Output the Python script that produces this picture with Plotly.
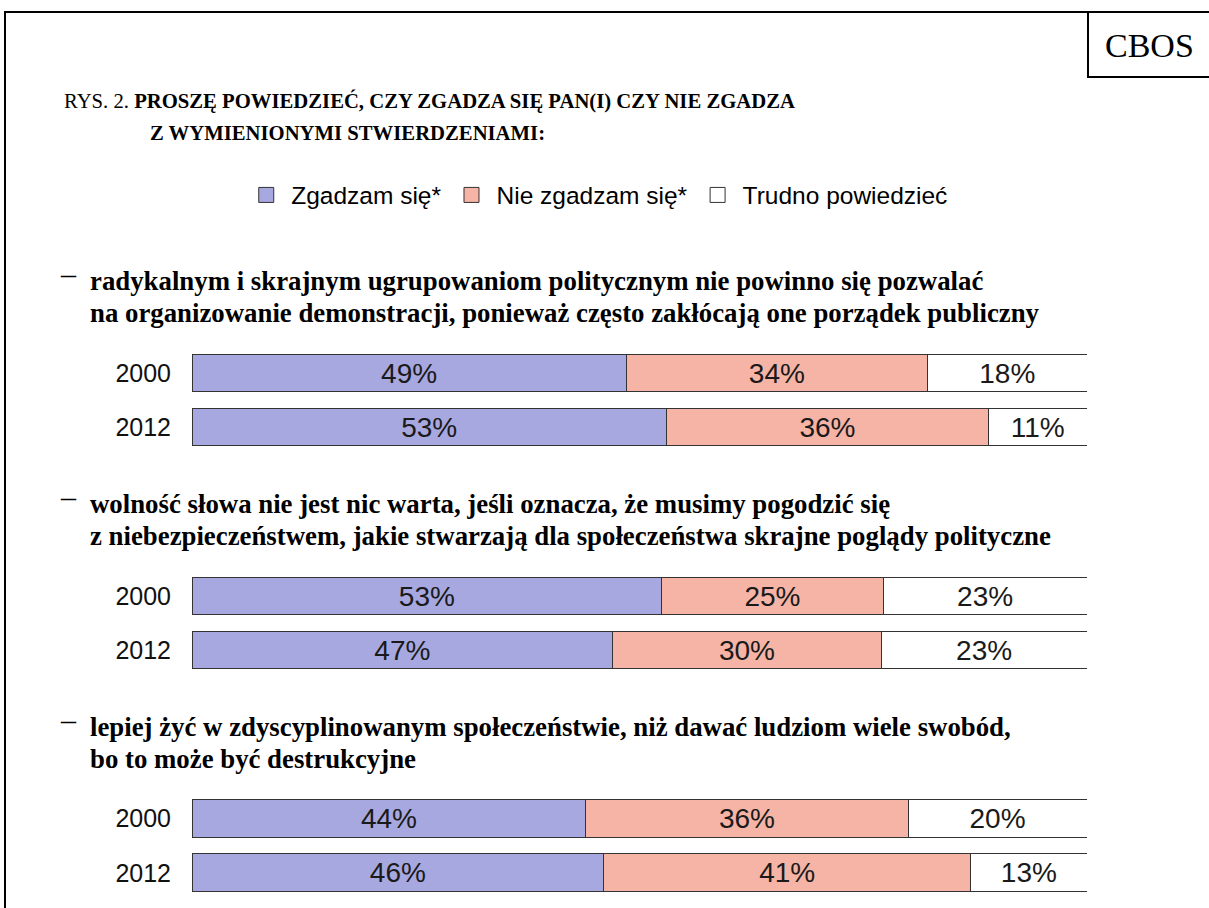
import plotly.graph_objects as go

W, H = 1209, 908

years = ["2000", "2012"]
series_names = ["Zgadzam się*", "Nie zgadzam się*", "Trudno powiedzieć"]
series_colors = ["#A8A8E0", "#F5B4A6", "#FFFFFF"]

q1_agree = [49, 53]
q1_disagree = [34, 36]
q1_hard = [18, 11]

q2_agree = [53, 47]
q2_disagree = [25, 30]
q2_hard = [23, 23]

q3_agree = [44, 46]
q3_disagree = [36, 41]
q3_hard = [20, 13]

questions = [
    ["radykalnym i skrajnym ugrupowaniom politycznym nie powinno się pozwalać",
     "na organizowanie demonstracji, ponieważ często zakłócają one porządek publiczny"],
    ["wolność słowa nie jest nic warta, jeśli oznacza, że musimy pogodzić się",
     "z niebezpieczeństwem, jakie stwarzają dla społeczeństwa skrajne poglądy polityczne"],
    ["lepiej żyć w zdyscyplinowanym społeczeństwie, niż dawać ludziom wiele swobód,",
     "bo to może być destrukcyjne"],
]

groups = [
    (q1_agree, q1_disagree, q1_hard),
    (q2_agree, q2_disagree, q2_hard),
    (q3_agree, q3_disagree, q3_hard),
]

# layout (pixel positions)
bar_left, bar_right = 192, 1087
group_axis_px = [(346, 454), (569, 677), (791, 900)]
question_line_px = [(281, 313), (504, 536), (727, 759)]

SANS = "Liberation Sans, Arial, sans-serif"
SERIF = "Liberation Serif, Times New Roman, serif"


def px_x(x):
    return x / W


def px_y(y):
    return 1 - y / H


fig = go.Figure()

# legend entries (square swatches)
for si, name in enumerate(series_names):
    fig.add_trace(go.Scatter(
        x=[None], y=[None], mode="markers", name=name,
        marker=dict(symbol="square", size=15, color=series_colors[si],
                    line=dict(color="#333333", width=1)),
        xaxis="x", yaxis="y", showlegend=True, hoverinfo="skip",
    ))

for gi, grp in enumerate(groups):
    totals = [sum(v[i] for v in grp) for i in range(len(years))]
    xa = "x" if gi == 0 else f"x{gi+1}"
    ya = "y" if gi == 0 else f"y{gi+1}"
    for si, vals in enumerate(grp):
        norm = [v * 100.0 / t for v, t in zip(vals, totals)]
        fig.add_trace(go.Bar(
            y=years, x=norm, orientation="h",
            name=series_names[si],
            marker=dict(color=series_colors[si], line=dict(color="#333333", width=1)),
            text=[f"{v}%" for v in vals],
            textposition="inside", insidetextanchor="middle",
            textfont=dict(family=SANS, size=28, color="#1a1a1a"),
            constraintext="none",
            xaxis=xa, yaxis=ya,
            showlegend=False,
            hoverinfo="skip",
        ))

layout_axes = {}
for gi, (top, bot) in enumerate(group_axis_px):
    xk = "xaxis" if gi == 0 else f"xaxis{gi+1}"
    yk = "yaxis" if gi == 0 else f"yaxis{gi+1}"
    yname = "y" if gi == 0 else f"y{gi+1}"
    xname = "x" if gi == 0 else f"x{gi+1}"
    layout_axes[xk] = dict(domain=[px_x(bar_left), px_x(bar_right)], range=[0, 100],
                           visible=False, anchor=yname, fixedrange=True)
    layout_axes[yk] = dict(domain=[px_y(bot), px_y(top)], range=[1.5, -0.5],
                           type="category", categoryarray=years, anchor=xname,
                           showgrid=False, zeroline=False, showline=False,
                           ticks="outside", ticklen=15, tickcolor="rgba(0,0,0,0)",
                           tickfont=dict(family=SANS, size=25, color="#111"),
                           fixedrange=True)

fig.update_layout(**layout_axes)

annotations = []
# CBOS
annotations.append(dict(x=px_x(1149), y=px_y(45), xref="paper", yref="paper",
                        text="CBOS", showarrow=False, xanchor="center", yanchor="middle",
                        font=dict(family=SERIF, size=34, color="#000")))
# title
annotations.append(dict(x=px_x(62), y=px_y(101), xref="paper", yref="paper",
                        text="RYS. 2. <b>PROSZĘ POWIEDZIEĆ, CZY ZGADZA SIĘ PAN(I) CZY NIE ZGADZA</b>",
                        showarrow=False, xanchor="left", yanchor="middle",
                        font=dict(family=SERIF, size=20.7, color="#000")))
annotations.append(dict(x=px_x(148), y=px_y(133), xref="paper", yref="paper",
                        text="<b>Z WYMIENIONYMI STWIERDZENIAMI:</b>",
                        showarrow=False, xanchor="left", yanchor="middle",
                        font=dict(family=SERIF, size=20.7, color="#000")))
for (l1, l2), (y1, y2) in zip(questions, question_line_px):
    annotations.append(dict(x=px_x(58), y=px_y(y1 - 8), xref="paper", yref="paper",
                            text="–", showarrow=False, xanchor="left", yanchor="middle",
                            font=dict(family=SERIF, size=30, color="#000")))
    annotations.append(dict(x=px_x(88), y=px_y(y1), xref="paper", yref="paper",
                            text=f"<b>{l1}</b>", showarrow=False, xanchor="left", yanchor="middle",
                            font=dict(family=SERIF, size=26.8, color="#000")))
    annotations.append(dict(x=px_x(88), y=px_y(y2), xref="paper", yref="paper",
                            text=f"<b>{l2}</b>", showarrow=False, xanchor="left", yanchor="middle",
                            font=dict(family=SERIF, size=26.8, color="#000")))

shapes = [
    dict(type="rect", xref="paper", yref="paper", x0=px_x(5), x1=px_x(1220),
         y0=px_y(920), y1=px_y(12), line=dict(color="#000", width=2), fillcolor="rgba(0,0,0,0)"),
    dict(type="rect", xref="paper", yref="paper", x0=px_x(1088), x1=px_x(1220),
         y0=px_y(77), y1=px_y(12), line=dict(color="#000", width=2), fillcolor="rgba(0,0,0,0)"),
]

fig.update_layout(
    width=W, height=H,
    margin=dict(l=0, r=0, t=0, b=0),
    paper_bgcolor="white", plot_bgcolor="white",
    barmode="stack", bargap=0.3,
    annotations=annotations, shapes=shapes,
    showlegend=True,
    legend=dict(orientation="h", x=0.494, xanchor="center", y=px_y(195), yanchor="middle",
                font=dict(family=SANS, size=24.5, color="#000"), traceorder="normal",
                itemwidth=40, itemsizing="trace", bgcolor="rgba(0,0,0,0)"),
)

fig.write_html("out.html", config={"displayModeBar": False},
               post_script="document.body.style.margin='0px';")
